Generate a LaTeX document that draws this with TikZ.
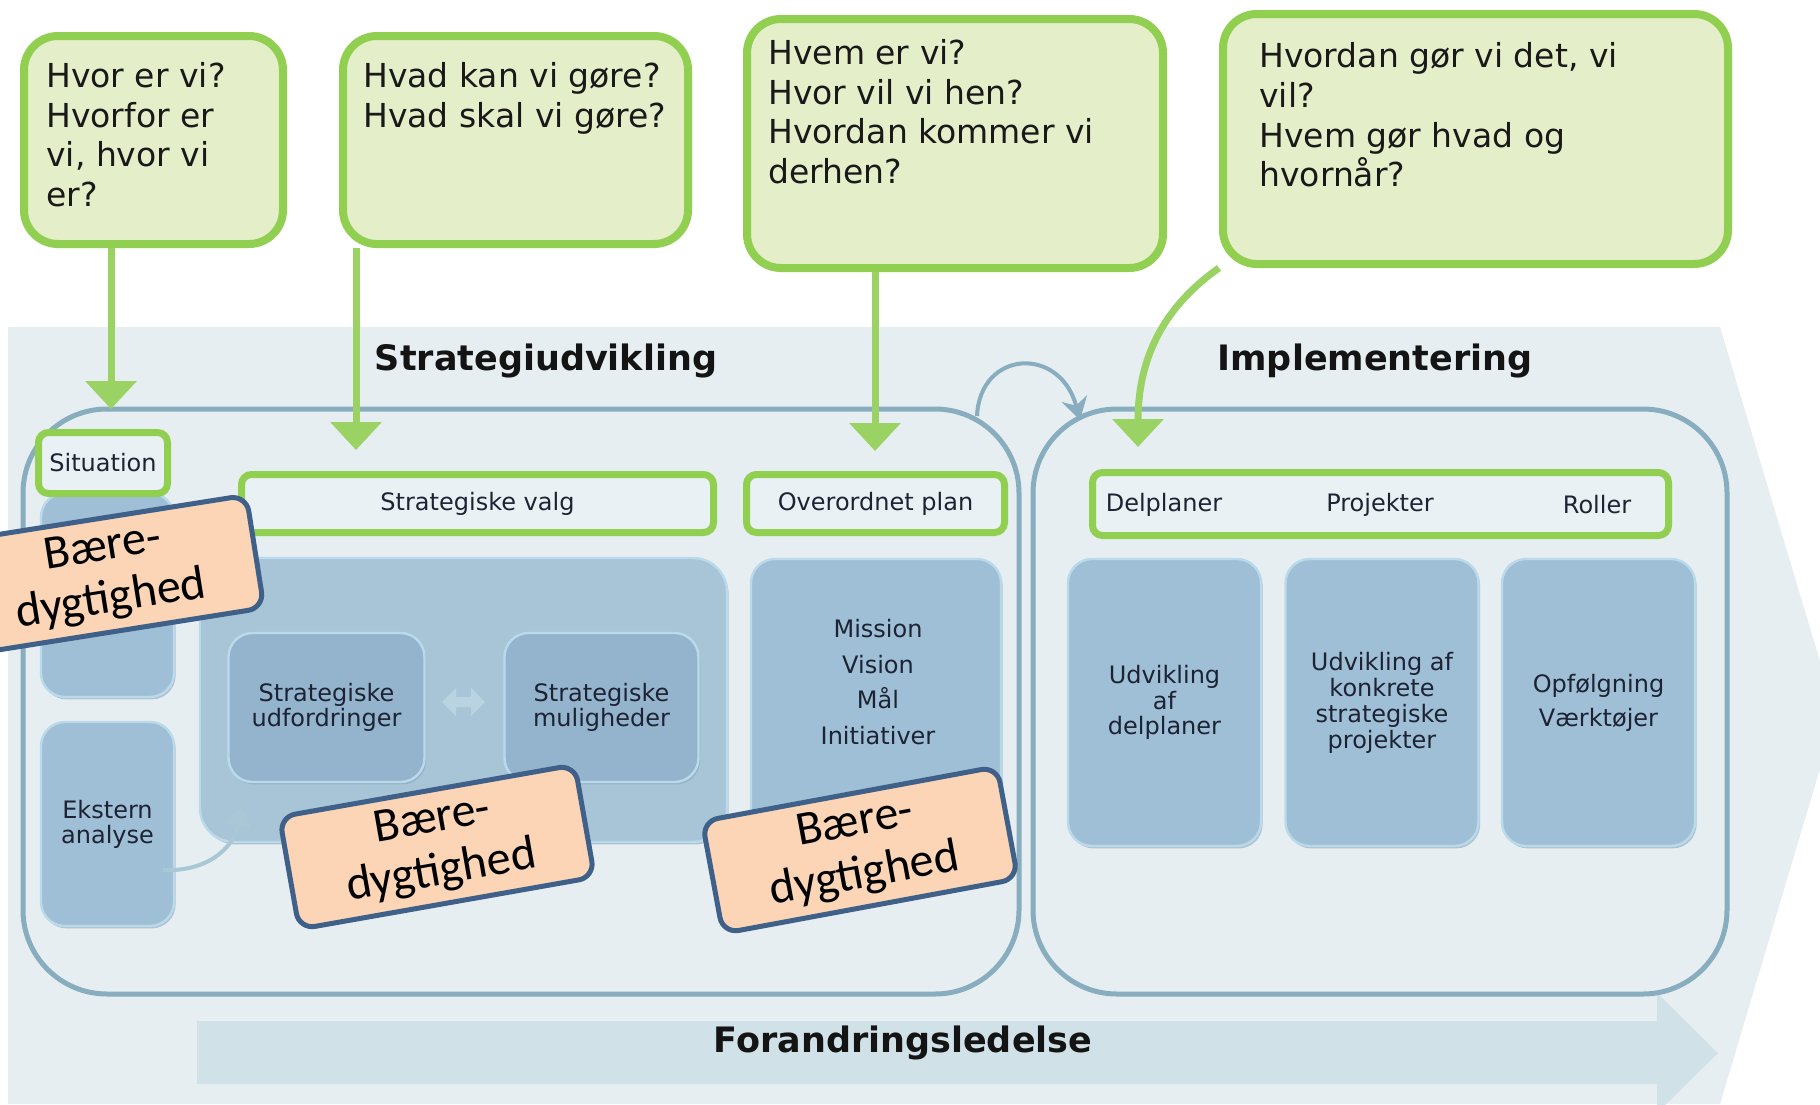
\documentclass[tikz,border=0pt]{standalone}
\usepackage{fontspec}
\setmainfont{DejaVu Sans}
\newfontfamily\calib{Carlito}
\usetikzlibrary{arrows.meta,shadows}
\definecolor{bgc}{HTML}{E6EEF2}
\definecolor{bandc}{HTML}{D1E1E8}
\definecolor{contc}{HTML}{87ADBE}
\definecolor{qfill}{HTML}{E4EEC9}
\definecolor{gborder}{HTML}{90CF4F}
\definecolor{garc}{HTML}{9AD364}
\definecolor{lfill}{HTML}{E9F1F4}
\definecolor{bfill}{HTML}{9FBFD6}
\definecolor{bedge}{HTML}{BADAEC}
\definecolor{bshad}{HTML}{8AA6B8}
\definecolor{bigc}{HTML}{A8C5D8}
\definecolor{ifill}{HTML}{93B4CC}
\definecolor{pale}{HTML}{A9C7D5}
\definecolor{dblc}{HTML}{B9D4E0}
\definecolor{bdf}{HTML}{FBD5B5}
\definecolor{bdb}{HTML}{3F6088}
\definecolor{textc}{HTML}{1D2333}
\begin{document}
\begin{tikzpicture}[x=0.5pt,y=-0.5pt,
  qbox/.style={draw=gborder, line width=4pt, fill=qfill, rounded corners=17pt, inner sep=0pt},
  qtext/.style={anchor=north west, align=left, inner sep=0pt, text=black!90,
     font=\fontsize{16.5pt}{19.8pt}\selectfont},
  garrow/.style={draw=garc, line width=3.5pt, -{Triangle[width=25pt,length=14pt]}},
  container/.style={draw=contc, line width=2.5pt, rounded corners=42pt, inner sep=0pt},
  titletext/.style={font=\bfseries\fontsize{17.5pt}{20pt}\selectfont, text=black!92, inner sep=0pt},
  glabel/.style={draw=gborder, line width=3.5pt, fill=lfill, rounded corners=5pt, inner sep=0pt,
     text=textc, font=\fontsize{12pt}{14pt}\selectfont},
  ltext/.style={text=textc, font=\fontsize{12pt}{14pt}\selectfont, inner sep=0pt},
  bbox/.style={fill=bfill, draw=bedge, line width=1.2pt, rounded corners=12pt, inner sep=0pt,
     align=center, text=textc,
     drop shadow={shadow xshift=0.8pt, shadow yshift=-1.2pt, fill=bshad, opacity=0.6}},
  ibox/.style={bbox, fill=ifill, draw=bedge},
  bd/.style={draw=bdb, line width=2.5pt, fill=bdf, rounded corners=8pt, inner sep=0pt,
     minimum width=150pt, minimum height=57pt, align=center, text=black,
     font=\calib\fontsize{24pt}{26.5pt}\selectfont},
  barrow/.style={draw=contc, line width=2pt, -{Stealth[width=13pt,length=11pt]}},
  parrow/.style={draw=pale, line width=2pt, -{Triangle[width=13pt,length=10pt]}}
]
\useasboundingbox (0,0) rectangle (1820,1104);
\clip (0,0) rectangle (1820,1104);
\fill[white] (0,0) rectangle (1820,1104);

% background chevron
\fill[bgc] (8,327) -- (1720,327) -- (1836,715) -- (1720,1104) -- (8,1104) -- cycle;

% change management band
\fill[bandc] (197,1021) -- (1657,1021) -- (1657,993) -- (1718,1053) -- (1657,1113) -- (1657,1084) -- (197,1084) -- cycle;
\node[titletext] (forand) at (903,1043) {Forandringsledelse};

% containers
\node[container, minimum width=498pt, minimum height=292.5pt] (cstrat) at (521,701.5) {};
\node[container, minimum width=347pt, minimum height=292.5pt] (cimpl) at (1380,701.5) {};
\node[titletext] (tstrat) at (546,361) {Strategiudvikling};
\node[titletext] (timpl) at (1375,361) {Implementering};

% blue boxes
\node[bbox, minimum width=66.5pt, minimum height=102pt] (sitbox) at (107.5,595) {};
\node[bbox, minimum width=66.5pt, minimum height=102pt, font=\fontsize{12pt}{12.5pt}\selectfont] (ekst) at (107.5,824) {Ekstern\\analyse};
\node[bbox, fill=bigc, rounded corners=17pt, minimum width=263.5pt, minimum height=142pt] (valg) at (463.5,700) {};
\node[ibox, minimum width=98pt, minimum height=74.5pt, font=\fontsize{12pt}{12.5pt}\selectfont] (udf) at (326.5,707.5) {Strategiske\\udfordringer};
\node[ibox, minimum width=97pt, minimum height=74.5pt, font=\fontsize{12pt}{12.5pt}\selectfont] (mul) at (601.5,707.5) {Strategiske\\muligheder};
\node[bbox, minimum width=125pt, minimum height=142pt] (miss) at (876,701) {};
\node[ltext, align=center, font=\fontsize{12pt}{17.75pt}\selectfont] (misst) at (878,682) {Mission\\Vision\\Mål\\Initiativer};
\node[bbox, minimum width=96.5pt, minimum height=143.5pt, font=\fontsize{12pt}{12.75pt}\selectfont] (impa) at (1164.5,702.5) {Udvikling\\af\\delplaner};
\node[bbox, minimum width=96.5pt, minimum height=143.5pt, font=\fontsize{12pt}{13pt}\selectfont] (impb) at (1382,702.5) {Udvikling af\\konkrete\\strategiske\\projekter};
\node[bbox, minimum width=96.5pt, minimum height=143.5pt, font=\fontsize{12pt}{17pt}\selectfont] (impc) at (1598.5,702.5) {Opfølgning\\Værktøjer};

% double arrow between the two inner boxes
\fill[dblc] (442,702) -- (456,688) -- (456,697) -- (471,697) -- (471,688) -- (485,702) -- (471,716) -- (471,707) -- (456,707) -- (456,716) -- cycle;

% arrow from Ekstern analyse
\coordinate (ea1) at (163,870);
\coordinate (ea2) at (242,806);
\draw[parrow] (ea1) .. controls (205,872) and (233,850) .. (ea2);

% green labels
\node[glabel, minimum width=64.5pt, minimum height=30.5pt] (lsit) at (103,463) {Situation};
\node[glabel, minimum width=236pt, minimum height=29pt] (lvalg) at (477.5,503.5) {Strategiske valg};
\node[glabel, minimum width=129pt, minimum height=29pt] (lplan) at (875.5,503.5) {Overordnet plan};
\node[glabel, minimum width=288pt, minimum height=31.5pt] (limpl) at (1380.5,504) {};
\node[ltext] (ldel) at (1164,505) {Delplaner};
\node[ltext] (lproj) at (1380,505) {Projekter};
\node[ltext] (lrol) at (1597,505) {Roller};

% question boxes
\node[qbox, minimum width=129.5pt, minimum height=104pt] (q1) at (153.5,140) {};
\node[qtext] (q1t) at (46,62) {Hvor er vi?\\Hvorfor er\\vi, hvor vi\\er?};
\node[qbox, minimum width=172.5pt, minimum height=104pt] (q2) at (515.5,140) {};
\node[qtext] (q2t) at (363,62) {Hvad kan vi gøre?\\Hvad skal vi gøre?};
\node[qbox, minimum width=208pt, minimum height=124.5pt] (q3) at (955,143.5) {};
\node[qtext] (q3t) at (768,39) {Hvem er vi?\\Hvor vil vi hen?\\Hvordan kommer vi\\derhen?};
\node[qbox, minimum width=252.5pt, minimum height=125pt] (q4) at (1475.5,139) {};
\node[qtext] (q4t) at (1259,42.5) {Hvordan gør vi det, vi\\vil?\\Hvem gør hvad og\\hvornår?};

% green arrows
\coordinate (a1) at (111,409);
\coordinate (a2) at (356,450);
\coordinate (a3) at (875,451);
\coordinate (a4) at (1138,447);
\draw[garrow] (a1 |- q1.south) -- (a1);
\draw[garrow] (a2 |- q2.south) -- (a2);
\draw[garrow] (a3 |- q3.south) -- (a3);
\draw[garrow] (q4.south west) .. controls (1162,308) and (1138,360) .. (a4);

% arrow from strategy to implementation
\coordinate (cs) at (977,416);
\coordinate (ce) at (1080,420);
\draw[barrow] (cs) .. controls (980,350) and (1060,345) .. (ce);

% Baeredygtighed labels
\node[bd, rotate=9] (bd1) at (107,575) {Bære-\\dygtighed};
\node[bd, rotate=10] (bd2) at (437,847) {Bære-\\dygtighed};
\node[bd, rotate=10.5] (bd3) at (860,850) {Bære-\\dygtighed};
\end{tikzpicture}
\end{document}
